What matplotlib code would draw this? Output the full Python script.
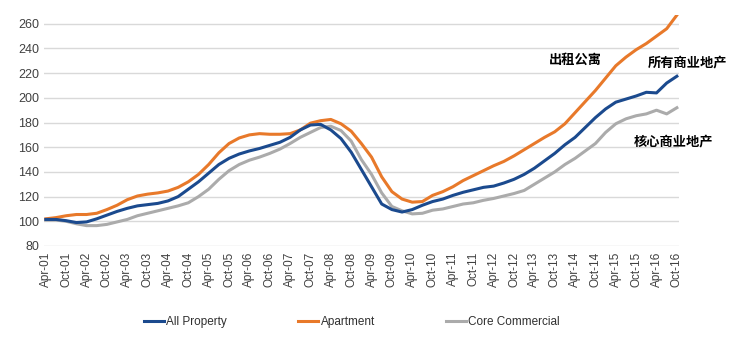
import numpy as np
import matplotlib.pyplot as plt

plt.rcParams['font.family'] = ['Liberation Sans Narrow', 'Liberation Sans', 'DejaVu Sans']

# half-year tick labels, Apr-01 .. Oct-16
tick_labels = []
for yr in range(1, 17):
    tick_labels.append('Apr-%02d' % yr)
    tick_labels.append('Oct-%02d' % yr)

# quarterly readings (Apr-01, Jul-01, Oct-01, ... Oct-16)
apartment = [102, 103, 104.5, 105.5, 105.5, 106.5, 109.5, 113, 117.5, 120.5,
             122, 123, 124.5, 127.5, 132, 138, 146, 155.5, 163, 167.5,
             170, 171, 170.5, 170.5, 171, 174, 179.5, 181.5, 182.5, 179,
             173, 163, 152, 136, 124, 118, 115.5, 116, 121, 124,
             128, 133, 137, 141, 145, 148.5, 153, 158, 163, 168,
             172.5, 179, 188, 197, 206, 216, 226, 233, 239, 244,
             250, 256, 267]
all_property = [101.5, 101.5, 100.5, 99, 99.5, 102, 105, 108, 110.5, 112.5,
                113.5, 114.5, 116.5, 120, 126, 132, 139, 146, 151, 154.5,
                157, 159, 161.5, 164, 168, 174, 178, 178.5, 174, 167,
                156, 142, 128, 114, 109.5, 107.5, 109.5, 113, 116, 118,
                121, 123.5, 125.5, 127.5, 128.5, 131, 134, 138, 143, 149,
                155, 162, 168, 176, 184, 191, 196.5, 199, 201.5, 204.5,
                204, 212, 217.5]
core_commercial = [101, 101, 100, 98, 96.5, 96.5, 97.5, 99.5, 101.5, 104.5,
                   106.5, 108.5, 110.5, 112.5, 115, 120, 126, 134, 141, 146,
                   149.5, 152, 155, 158.5, 163, 168, 172, 176, 177, 173.5,
                   165, 150, 138, 123, 112, 108.5, 106, 106.5, 109, 110,
                   112, 114, 115, 117, 118.5, 120.5, 122.5, 125, 130, 135,
                   140, 146, 151, 157, 163, 172, 179, 183, 185.5, 187,
                   190, 187, 192]

months = np.arange(len(apartment)) * 3

fig = plt.figure(figsize=(7.3, 3.4), dpi=100)
ax = fig.add_axes([0.060, 0.2765, 0.870, 0.679])

ax.plot(months, all_property, color='#1B4A8E', lw=2.2, label='All Property', zorder=4)
ax.plot(months, apartment, color='#E8792A', lw=2.2, label='Apartment', zorder=3)
ax.plot(months, core_commercial, color='#ABABAB', lw=2.2, label='Core Commercial', zorder=2)

ax.set_ylim(80, 267)
ax.set_yticks(range(80, 261, 20))
ax.set_xlim(-0.6, 186.6)
ax.set_xticks(np.arange(len(tick_labels)) * 6)
ax.set_xticklabels(tick_labels, rotation=90)
ax.tick_params(axis='both', length=0, colors='#404040', labelsize=9)
ax.tick_params(axis='x', pad=4, labelsize=8.5)
ax.grid(axis='y', color='#D9D9D9', lw=1)
ax.set_axisbelow(True)
for s in ax.spines.values():
    s.set_visible(False)

cjk = ['Noto Sans CJK SC']
ax.text(156, 230.5, '出租公寓', family=cjk, fontsize=9.5,
        fontweight='bold', ha='center', va='center')
ax.text(189, 229, '所有商业地产', family=cjk, fontsize=9.5,
        fontweight='bold', ha='center', va='center')
ax.text(185, 165, '核心商业地产', family=cjk, fontsize=9.5,
        fontweight='bold', ha='center', va='center')

leg = fig.legend(loc='center', bbox_to_anchor=(0.482, 0.053), ncol=3, frameon=False,
                 fontsize=8.5, handlelength=1.7, handletextpad=0.2, columnspacing=6.0)
for t in leg.get_texts():
    t.set_color('#303030')

fig.savefig('out.png', dpi=100)
